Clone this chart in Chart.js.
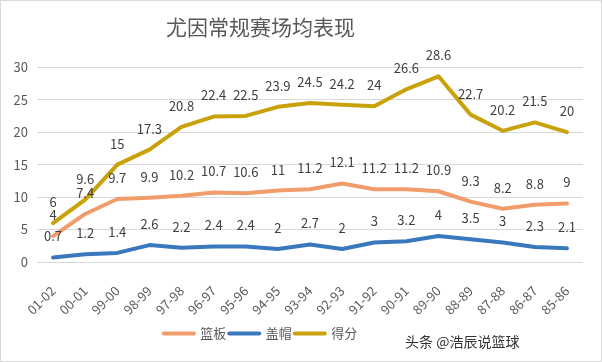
<!DOCTYPE html>
<html>
<head>
<meta charset="utf-8">
<script src="https://cdn.jsdelivr.net/npm/chart.js@4/dist/chart.umd.min.js"></script>
<style>
  html,body{margin:0;padding:0;background:#fff;}
  #wrap{position:relative;width:602px;height:362px;}
</style>
</head>
<body>
<div id="wrap"><canvas id="c" width="602" height="362"></canvas></div>
<script>
const categories = ['01-02','00-01','99-00','98-99','97-98','96-97','95-96','94-95','93-94','92-93','91-92','90-91','89-90','88-89','87-88','86-87','85-86'];
const rebounds = [4, 7.4, 9.7, 9.9, 10.2, 10.7, 10.6, 11, 11.2, 12.1, 11.2, 11.2, 10.9, 9.3, 8.2, 8.8, 9];
const blocks   = [0.7, 1.2, 1.4, 2.6, 2.2, 2.4, 2.4, 2, 2.7, 2, 3, 3.2, 4, 3.5, 3, 2.3, 2.1];
const points   = [6, 9.6, 15, 17.3, 20.8, 22.4, 22.5, 23.9, 24.5, 24.2, 24, 26.6, 28.6, 22.7, 20.2, 21.5, 20];
const yTicks = [0, 5, 10, 15, 20, 25, 30];
const seriesNames = ['篮板', '盖帽', '得分'];
const seriesColors = ['#F19C6B', '#3A78BE', '#C9A20A'];
const titleText = '尤因常规赛场均表现';
const watermark = '头条 @浩辰说篮球';

const FONT = "'Noto Sans CJK SC', 'Noto Sans', sans-serif";

const labelPlugin = {
  id: 'dataLabels',
  afterDatasetsDraw(chart) {
    const ctx = chart.ctx;
    ctx.save();
    ctx.font = '13px ' + FONT;
    ctx.fillStyle = '#404040';
    ctx.textAlign = 'center';
    ctx.textBaseline = 'middle';
    chart.data.datasets.forEach((ds, i) => {
      const meta = chart.getDatasetMeta(i);
      meta.data.forEach((pt, j) => {
        ctx.fillText(String(ds.data[j]), pt.x, pt.y - 21);
      });
    });
    ctx.restore();
  }
};

const shiftPlugin = {
  id: 'shiftBlocks',
  afterLayout(chart) {
    [[chart.titleBlock, -31], [chart.legend, -31]].forEach(([b, dx]) => {
      if (b) { b.left += dx; b.right += dx; }
    });
  }
};

const decorPlugin = {
  id: 'decor',
  afterDraw(chart) {
    const ctx = chart.ctx;
    ctx.save();
    ctx.strokeStyle = '#d9d9d9';
    ctx.lineWidth = 1;
    ctx.strokeRect(0.5, 0.5, chart.width - 1, chart.height - 1);
    ctx.font = '14px ' + FONT;
    ctx.fillStyle = '#333333';
    ctx.textAlign = 'left';
    ctx.textBaseline = 'middle';
    ctx.fillText(watermark, 405, 342);
    ctx.restore();
  }
};

new Chart(document.getElementById('c'), {
  type: 'line',
  data: {
    labels: categories,
    datasets: [
      { label: seriesNames[0], data: rebounds, borderColor: seriesColors[0], backgroundColor: seriesColors[0] },
      { label: seriesNames[1], data: blocks,   borderColor: seriesColors[1], backgroundColor: seriesColors[1] },
      { label: seriesNames[2], data: points,   borderColor: seriesColors[2], backgroundColor: seriesColors[2] }
    ]
  },
  options: {
    responsive: false,
    animation: false,
    devicePixelRatio: 1,
    layout: { padding: { left: 0, right: 19, top: 0, bottom: 12 } },
    elements: {
      line: { borderWidth: 4, tension: 0, borderCapStyle: 'round', borderJoinStyle: 'round', fill: false },
      point: { radius: 0, hoverRadius: 0 }
    },
    plugins: {
      title: {
        display: true,
        text: titleText,
        color: '#595959',
        font: { family: FONT, size: 21, weight: 'normal' },
        padding: { top: 14, bottom: 28 }
      },
      legend: {
        display: true,
        position: 'bottom',
        labels: {
          usePointStyle: true,
          pointStyleWidth: 30,
          boxHeight: 13,
          color: '#595959',
          font: { family: FONT, size: 13 },
          padding: 3,
          generateLabels(chart) {
            return chart.data.datasets.map((ds, i) => ({
              text: ds.label,
              fillStyle: ds.borderColor,
              strokeStyle: ds.borderColor,
              lineWidth: 4,
              lineCap: 'round',
              pointStyle: 'line',
              hidden: false,
              datasetIndex: i,
              fontColor: '#595959'
            }));
          }
        }
      },
      tooltip: { enabled: false }
    },
    scales: {
      x: {
        offset: true,
        grid: { display: false, drawTicks: false },
        border: { display: false },
        afterFit(scale) { scale.height = 62; },
        ticks: {
          autoSkip: false,
          maxRotation: 45,
          minRotation: 45,
          color: '#595959',
          font: { family: FONT, size: 13 },
          padding: 21
        }
      },
      y: {
        min: 0,
        max: 30,
        afterBuildTicks(scale) { scale.ticks = yTicks.map(v => ({ value: v })); },
        afterFit(scale) { scale.width = 37; },
        grid: { color: '#d9d9d9', drawTicks: false, lineWidth: 1 },
        border: { display: false },
        ticks: {
          color: '#595959',
          font: { family: FONT, size: 13 },
          padding: 9
        }
      }
    }
  },
  plugins: [labelPlugin, shiftPlugin, decorPlugin]
});
</script>
</body>
</html>
